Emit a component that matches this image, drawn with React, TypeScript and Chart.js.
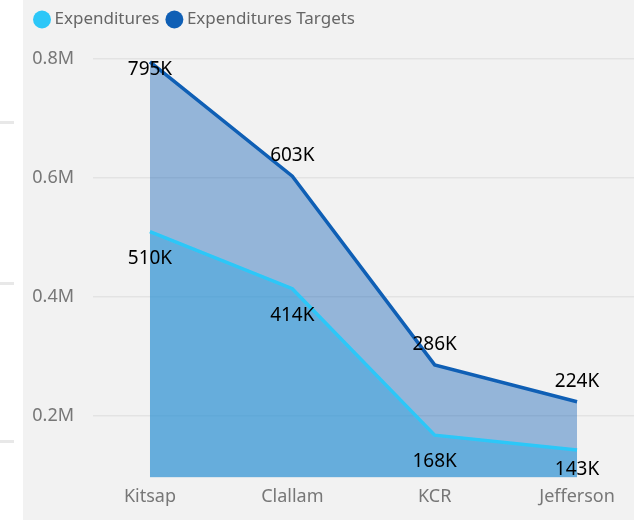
import React, { useEffect, useRef } from "react";
import { Chart, registerables } from "chart.js";

Chart.register(...registerables);

// ---- data ----
const categories = ["Kitsap", "Clallam", "KCR", "Jefferson"];
const expenditures = [510000, 414000, 168000, 143000];
const expenditureTargets = [795000, 603000, 286000, 224000];
const yTickValues = [200000, 400000, 600000, 800000];
const yAxisMin = 97000;
const yAxisMax = 800000;

const FONT = "'Noto Sans', 'Open Sans', sans-serif";
const lineColors = ["#2cc7f8", "#0f5fb5"];

const valueLabels = {
  id: "valueLabels",
  afterDatasetsDraw(chart: any) {
    const { ctx, chartArea } = chart;
    ctx.save();
    ctx.font = `19px ${FONT}`;
    ctx.fillStyle = "#000000";
    ctx.textAlign = "center";
    ctx.textBaseline = "middle";
    chart.data.datasets.forEach((ds: any, di: number) => {
      const meta = chart.getDatasetMeta(di);
      const above = ds.labelSide === "above";
      meta.data.forEach((pt: any, i: number) => {
        const v = ds.data[i].y;
        const y = above
          ? Math.max(pt.y - 20.5, chartArea.top + 11)
          : Math.min(pt.y + 26.5, chartArea.bottom - 7.5);
        ctx.fillText(Math.round(v / 1000) + "K", pt.x, y);
      });
    });
    ctx.restore();
  },
};

const legendSpacing = {
  id: "legendSpacing",
  beforeInit(chart: any) {
    const legend = chart.legend;
    if (!legend) return;
    const orig = legend.fit;
    legend.fit = function () {
      orig.call(this);
      this.height += 21;
    };
  },
};

export default function App() {
  const canvasRef = useRef<HTMLCanvasElement | null>(null);

  useEffect(() => {
    if (!canvasRef.current) return;
    const chart = new Chart(canvasRef.current, {
      type: "line",
      data: {
        datasets: [
          {
            label: "Expenditures",
            data: expenditures.map((v, i) => ({ x: i, y: v })),
            borderColor: lineColors[0],
            backgroundColor: "rgba(56,166,223,0.5)",
            borderWidth: 3.5,
            fill: "start",
            pointRadius: 0,
            tension: 0,
            labelSide: "below",
          } as any,
          {
            label: "Expenditures Targets",
            data: expenditureTargets.map((v, i) => ({ x: i, y: v })),
            borderColor: lineColors[1],
            backgroundColor: "rgba(15,95,181,0.41)",
            borderWidth: 3.5,
            fill: "start",
            pointRadius: 0,
            tension: 0,
            labelSide: "above",
          } as any,
        ],
      },
      options: {
        animation: false,
        responsive: true,
        maintainAspectRatio: false,
        events: [],
        layout: { padding: { left: 4, top: 0, right: 0, bottom: 11 } },
        scales: {
          x: {
            type: "linear",
            min: -0.4,
            max: 3.4,
            grid: { display: false },
            border: { display: false },
            afterBuildTicks: (scale: any) => {
              scale.ticks = categories.map((_, i) => ({ value: i }));
            },
            ticks: {
              padding: 1,
              maxRotation: 0,
              autoSkip: false,
              color: "#777777",
              font: { family: FONT, size: 18 },
              callback: (v: any) => categories[v] ?? "",
            },
          },
          y: {
            type: "linear",
            min: yAxisMin,
            max: yAxisMax,
            border: { display: false },
            grid: { color: "#e3e3e3", lineWidth: 1.5, drawTicks: false },
            afterBuildTicks: (scale: any) => {
              scale.ticks = yTickValues.map((v) => ({ value: v }));
            },
            afterFit: (scale: any) => {
              scale.width = 66;
            },
            ticks: {
              padding: 19,
              color: "#777777",
              font: { family: FONT, size: 18 },
              callback: (v: any) => (Number(v) / 1e6).toFixed(1) + "M",
            },
          },
        },
        plugins: {
          tooltip: { enabled: false },
          legend: {
            display: true,
            position: "top",
            align: "start",
            labels: {
              usePointStyle: true,
              pointStyle: "circle",
              boxWidth: 8,
              boxHeight: 12.7,
              padding: 11,
              color: "#666666",
              font: { family: FONT, size: 17 },
              generateLabels: (c: any) => {
                const items = (Chart.defaults.plugins.legend.labels as any).generateLabels(c);
                return items.map((it: any, i: number) => ({
                  ...it,
                  fillStyle: lineColors[i],
                  strokeStyle: lineColors[i],
                  lineWidth: 0,
                  pointStyle: "circle",
                }));
              },
            },
          },
        },
      } as any,
      plugins: [legendSpacing, valueLabels],
    });
    return () => chart.destroy();
  }, []);

  return (
    <div
      style={{
        position: "fixed",
        left: 0,
        top: 0,
        width: 634,
        height: 520,
        background: "#ffffff",
        overflow: "hidden",
      }}
    >
      {[121, 282, 440].map((y) => (
        <div
          key={y}
          style={{ position: "absolute", left: 0, top: y, width: 14, height: 3, background: "#e8e8e8" }}
        />
      ))}
      <div
        style={{
          position: "absolute",
          left: 23,
          top: 0,
          width: 611,
          height: 520,
          background: "#f2f2f2",
        }}
      >
        <canvas ref={canvasRef} />
      </div>
    </div>
  );
}
